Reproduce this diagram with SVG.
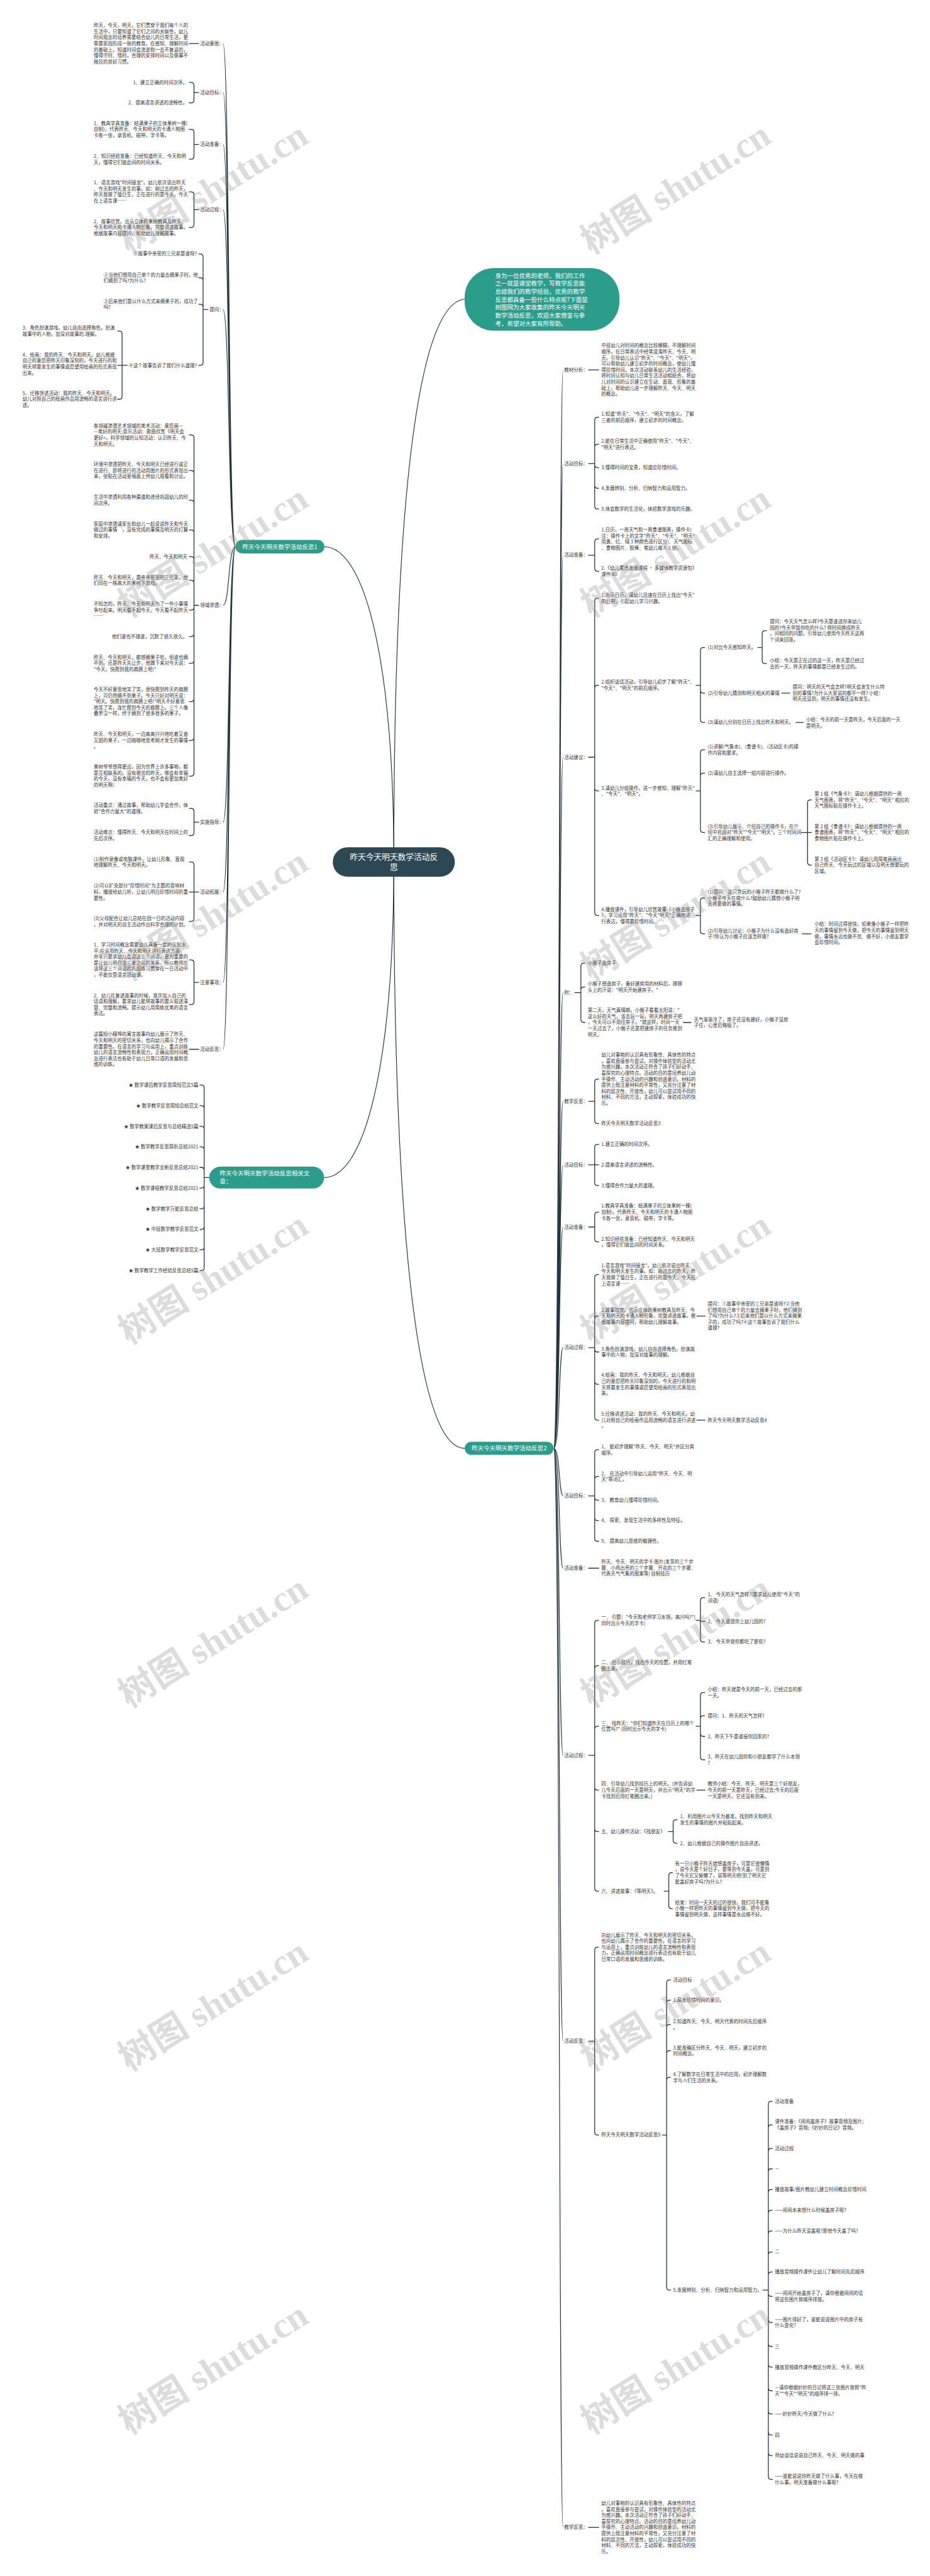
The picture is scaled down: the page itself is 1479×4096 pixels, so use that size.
<svg xmlns="http://www.w3.org/2000/svg" width="1479" height="4096" viewBox="0 0 1479 4096">
<style>
.t{font-family:"Noto Sans CJK SC","Noto Sans",sans-serif;font-size:13px;fill:#333}
.e{text-anchor:end}
.w{font-family:"Noto Sans CJK SC","Noto Sans",sans-serif;font-size:16.5px;fill:#fff}
.m{text-anchor:middle}
.k{fill:none;stroke:#22343e;stroke-width:2.2;stroke-linecap:round;stroke-linejoin:round}
.tr{fill:none;stroke:#22343e;stroke-width:2}
.wm{font-family:"Liberation Serif","Noto Sans CJK SC",serif;font-size:100px;font-weight:bold;fill:#8a8a8a;fill-opacity:.3}
</style>
<rect width="1479" height="4096" fill="#fff"/>
<g transform="scale(0.577734)">
<g id="connectors">
<path class="tr" d="M1084,2372C1084,1800 1000,1505 893,1505"/>
<path class="tr" d="M1084,2372C1084,1300 1160,835 1279,823"/>
<path class="tr" d="M1084,2372C1084,2950 1000,3241 892,3241"/>
<path class="tr" d="M1084,2372C1084,3400 1150,3986 1279,3986"/>
<path class="tr" d="M648,1505C628,1505 632,120 614,120M648,1505C628,1505 632,254.5 614,254.5M648,1505C628,1505 632,397.5 614,397.5M648,1505C628,1505 632,577 614,577M648,1505C628,1505 632,852 614,852M648,1505C628,1505 632,1666 614,1666M648,1505C628,1505 632,2263 614,2263M648,1505C628,1505 632,2455 614,2455M648,1505C628,1505 632,2704 614,2704M648,1505C628,1505 632,2888 614,2888"/>
<path class="tr" d="M1524,3986C1542,3986 1538,1018 1550,1018M1524,3986C1542,3986 1538,1276 1550,1276M1524,3986C1542,3986 1538,1528 1550,1528M1524,3986C1542,3986 1538,2084 1550,2084M1524,3986C1542,3986 1538,2732 1550,2732M1524,3986C1542,3986 1538,3031 1550,3031M1524,3986C1542,3986 1538,3206 1550,3206M1524,3986C1542,3986 1538,3377 1550,3377M1524,3986C1542,3986 1538,3709 1550,3709M1524,3986C1542,3986 1538,4117 1550,4117M1524,3986C1542,3986 1538,4316 1550,4316M1524,3986C1542,3986 1538,4831 1550,4831M1524,3986C1542,3986 1538,5618 1550,5618M1524,3986C1542,3986 1538,6956 1550,6956"/>
<path class="k" d="M547,120H521M547,2888H521"/>
<path class="k" d="M547,254.5H534M534,254.5V235Q534,227 526,227H521M534,254.5V275Q534,283 526,283H521"/>
<path class="k" d="M547,397.5H534M534,397.5V364Q534,356 526,356H521M534,397.5V430Q534,438 526,438H521"/>
<path class="k" d="M547,577H534M534,577V536Q534,528 526,528H521M534,577V618Q534,626 526,626H521"/>
<path class="k" d="M573,852H559M559,852V707Q559,699 551,699H547M559,852V772.5Q559,764.5 551,764.5H547M559,852V845.5Q559,837.5 551,837.5H547M559,852V997.6Q559,1005.6 551,1005.6H547"/>
<path class="k" d="M350,1005.6H336M336,1005.6V919Q336,911 328,911H324M336,1005.6H324M336,1005.6V1090.7Q336,1098.7 328,1098.7H324"/>
<path class="k" d="M547,1666H534M534,1666V1205Q534,1197 526,1197H521M534,1666V1303Q534,1295 526,1295H521M534,1666V1384.6Q534,1376.6 526,1376.6H521M534,1666V1466.5Q534,1458.5 526,1458.5H521M534,1666V1540Q534,1532 526,1532H521M534,1666V1605Q534,1597 526,1597H521M534,1666V1671Q534,1679 526,1679H521M534,1666V1744Q534,1752 526,1752H521M534,1666V1817.6Q534,1825.6 526,1825.6H521M534,1666V1923Q534,1931 526,1931H521M534,1666V2030Q534,2038 526,2038H521M534,1666V2128Q534,2136 526,2136H521"/>
<path class="k" d="M547,2263H534M534,2263V2233Q534,2225 526,2225H521M534,2263V2291.5Q534,2299.5 526,2299.5H521"/>
<path class="k" d="M547,2455H534M534,2455V2380.6Q534,2372.6 526,2372.6H521M534,2455H521M534,2455V2528Q534,2536 526,2536H521"/>
<path class="k" d="M547,2704H534M534,2704V2650Q534,2642 526,2642H521M534,2704V2757Q534,2765 526,2765H521"/>
<path class="k" d="M576,3241H562M562,3241V2994Q562,2986 554,2986H550M562,3241V3051Q562,3043 554,3043H550M562,3241V3108Q562,3100 554,3100H550M562,3241V3164.5Q562,3156.5 554,3156.5H550M562,3241V3221Q562,3213 554,3213H550M562,3241V3262Q562,3270 554,3270H550M562,3241V3319Q562,3327 554,3327H550M562,3241V3375.5Q562,3383.5 554,3383.5H550M562,3241V3432Q562,3440 554,3440H550M562,3241V3489Q562,3497 554,3497H550"/>
<path class="k" d="M1620,1018H1648M1620,4316H1648M1620,6956H1648"/>
<path class="k" d="M1620,1276H1637M1637,1276V1156.3Q1637,1148.3 1645,1148.3H1648M1637,1276V1230.8Q1637,1222.8 1645,1222.8H1648M1637,1276V1279Q1637,1287 1645,1287H1648M1637,1276V1336Q1637,1344 1645,1344H1648M1637,1276V1393Q1637,1401 1645,1401H1648"/>
<path class="k" d="M1620,1528H1637M1637,1528V1491Q1637,1483 1645,1483H1648M1637,1528V1564.5Q1637,1572.5 1645,1572.5H1648"/>
<path class="k" d="M1620,2084H1637M1637,2084V1654.5Q1637,1646.5 1645,1646.5H1648M1637,2084V1894Q1637,1886 1645,1886H1648M1637,2084V2169Q1637,2177 1645,2177H1648M1637,2084V2511.5Q1637,2519.5 1645,2519.5H1648"/>
<path class="k" d="M1916,1886H1928M1928,1886V1790Q1928,1782 1936,1782H1940M1928,1886V1899.5Q1928,1907.5 1936,1907.5H1940M1928,1886V1980Q1928,1988 1936,1988H1940"/>
<path class="k" d="M2086,1782H2098M2098,1782V1744Q2098,1736 2106,1736H2110M2098,1782V1818.5Q2098,1826.5 2106,1826.5H2110"/>
<path class="k" d="M2152,1907.5H2174M2191,1988H2211"/>
<path class="k" d="M1916,2177H1928M1928,2177V2071.5Q1928,2063.5 1936,2063.5H1940M1928,2177V2136Q1928,2128 1936,2128H1940M1928,2177V2283Q1928,2291 1936,2291H1940"/>
<path class="k" d="M2206,2291H2223M2223,2291V2209.5Q2223,2201.5 2231,2201.5H2234M2223,2291H2234M2223,2291V2373Q2223,2381 2231,2381H2234"/>
<path class="k" d="M1916,2519.5H1928M1928,2519.5V2479.5Q1928,2471.5 1936,2471.5H1940M1928,2519.5V2562Q1928,2570 1936,2570H1940M2208,2570H2233"/>
<path class="k" d="M1582,2732H1599M1599,2732V2659Q1599,2651 1607,2651H1610M1599,2732V2724.6Q1599,2716.6 1607,2716.6H1610M1599,2732V2806Q1599,2814 1607,2814H1610M1881,2814H1902"/>
<path class="k" d="M1620,3031H1637M1637,3031V2978Q1637,2970 1645,2970H1648M1637,3031V3084.6Q1637,3092.6 1645,3092.6H1648"/>
<path class="k" d="M1620,3206H1637M1637,3206V3157.5Q1637,3149.5 1645,3149.5H1648M1637,3206H1648M1637,3206V3255Q1637,3263 1645,3263H1648"/>
<path class="k" d="M1620,3377H1637M1637,3377V3344Q1637,3336 1645,3336H1648M1637,3377V3410Q1637,3418 1645,3418H1648"/>
<path class="k" d="M1620,3709H1637M1637,3709V3516Q1637,3508 1645,3508H1648M1637,3709V3630Q1637,3622 1645,3622H1648M1637,3709V3713Q1637,3721 1645,3721H1648M1637,3709V3802Q1637,3810 1645,3810H1648M1637,3709V3900.6Q1637,3908.6 1645,3908.6H1648M1918,3622H1941M1918,3908.6H1941"/>
<path class="k" d="M1620,4117H1637M1637,4117V3998Q1637,3990 1645,3990H1648M1637,4117V4071.6Q1637,4063.6 1645,4063.6H1648M1637,4117V4121Q1637,4129 1645,4129H1648M1637,4117V4177Q1637,4185 1645,4185H1648M1637,4117V4234Q1637,4242 1645,4242H1648"/>
<path class="k" d="M1620,4831H1637M1637,4831V4467.5Q1637,4459.5 1645,4459.5H1648M1637,4831V4592.5Q1637,4584.5 1645,4584.5H1648M1637,4831V4759Q1637,4751 1645,4751H1648M1637,4831V4918.6Q1637,4926.6 1645,4926.6H1648M1637,4831V5033Q1637,5041 1645,5041H1648M1637,4831V5197Q1637,5205 1645,5205H1648"/>
<path class="k" d="M1916,4459.5H1928M1928,4459.5V4405Q1928,4397 1936,4397H1940M1928,4459.5V4462.5H1940M1928,4459.5V4511Q1928,4519 1936,4519H1940"/>
<path class="k" d="M1916,4751H1928M1928,4751V4666.5Q1928,4658.5 1936,4658.5H1940M1928,4751V4730Q1928,4722 1936,4722H1940M1928,4751V4771Q1928,4779 1936,4779H1940M1928,4751V4835.5Q1928,4843.5 1936,4843.5H1940M1918,4926.6H1941"/>
<path class="k" d="M1840,5041H1853M1853,5041V5016.5Q1853,5008.5 1861,5008.5H1864M1853,5041V5065Q1853,5073 1861,5073H1864"/>
<path class="k" d="M1828,5205H1841M1841,5205V5162Q1841,5154 1849,5154H1851M1841,5205V5245Q1841,5253 1849,5253H1851"/>
<path class="k" d="M1620,5618H1637M1637,5618V5367Q1637,5359 1645,5359H1648M1637,5618V5868Q1637,5876 1645,5876H1648"/>
<path class="k" d="M1823,5876H1835M1835,5876V5457Q1835,5449 1843,5449H1846M1835,5876V5513Q1835,5505 1843,5505H1846M1835,5876V5580Q1835,5572 1843,5572H1846M1835,5876V5652Q1835,5644 1843,5644H1846M1835,5876V5725.5Q1835,5717.5 1843,5717.5H1846M1835,5876V6295Q1835,6303 1843,6303H1846"/>
<path class="k" d="M2100,6303H2115M2115,6303V5791Q2115,5783 2123,5783H2126M2115,6303V5856Q2115,5848 2123,5848H2126M2115,6303V5921Q2115,5913 2123,5913H2126M2115,6303V5977Q2115,5969 2123,5969H2126M2115,6303V6034Q2115,6026 2123,6026H2126M2115,6303V6091Q2115,6083 2123,6083H2126M2115,6303V6148Q2115,6140 2123,6140H2126M2115,6303V6206Q2115,6198 2123,6198H2126M2115,6303V6261Q2115,6253 2123,6253H2126M2115,6303V6312Q2115,6320 2123,6320H2126M2115,6303V6384Q2115,6392 2123,6392H2126M2115,6303V6450Q2115,6458 2123,6458H2126M2115,6303V6507Q2115,6515 2123,6515H2126M2115,6303V6572Q2115,6580 2123,6580H2126M2115,6303V6636Q2115,6644 2123,6644H2126M2115,6303V6694Q2115,6702 2123,6702H2126M2115,6303V6750.6Q2115,6758.6 2123,6758.6H2126M2115,6303V6816Q2115,6824 2123,6824H2126"/>
</g>

<g id="center"><rect x="916" y="2332" width="336" height="81" rx="40.5" fill="#2c4854"/><text class="w m" style="font-size:22px" x="1084" y="2365.8">昨天今天明天数学活动反<tspan x="1084" dy="28">思</tspan></text></g>
<g id="intro"><rect x="1279" y="738" width="426" height="172" rx="80" fill="#2a9d8b"/><text class="w" x="1363" y="764.4">身为一位优秀的老师，我们的工作<tspan x="1363" dy="22">之一就是课堂教学，写教学反思能</tspan><tspan x="1363" dy="22">总结我们的教学经验，优秀的教学</tspan><tspan x="1363" dy="22">反思都具备一些什么特点呢?下面是</tspan><tspan x="1363" dy="22">树图网为大家收集的昨天今天明天</tspan><tspan x="1363" dy="22">数学活动反思，欢迎大家借鉴与参</tspan><tspan x="1363" dy="22">考，希望对大家有所帮助。</tspan></text></g>
<g id="b1"><rect x="648" y="1486" width="245" height="37" rx="18.5" fill="#2a9d8b"/><text class="w m" x="770.5" y="1510.8">昨天今天明天数学活动反思1</text></g>
<g id="b2"><rect x="1279" y="3968" width="245" height="36" rx="18" fill="#2a9d8b"/><text class="w m" x="1401.5" y="3991.8">昨天今天明天数学活动反思2</text></g>
<g id="b3"><rect x="576" y="3211" width="316" height="60" rx="30" fill="#2a9d8b"/><text class="w" x="605" y="3235.8">昨天今天明天数学活动反思相关文<tspan x="605" dy="22.5">章：</tspan></text></g>

<g id="left">
<g id="l-yitu"><text class="t" x="551" y="124.6">活动意图：</text><text class="t" x="258" y="74.8">昨天，今天，明天，它们贯穿于我们每个人的<tspan x="258" dy="16.6">生活中，只要知道了它们之间的关联性，幼儿</tspan><tspan x="258" dy="16.6">时间观念的培养需要结合幼儿的日常生活，更</tspan><tspan x="258" dy="16.6">需要家园形成一致的教育。在感知、理解时间</tspan><tspan x="258" dy="16.6">的基础上，知道时间会流逝和一去不复返的，</tspan><tspan x="258" dy="16.6">懂得守时、惜时，合理的安排时间以及做事不</tspan><tspan x="258" dy="16.6">拖拉的良好习惯。</tspan></text></g>
<g id="l-mubiao"><text class="t" x="551" y="259.1">活动目标：</text><text class="t e" x="516" y="231.6">1、建立正确的时间次序。</text><text class="t e" x="516" y="287.6">2、提高语言讲述的流畅性。</text></g>
<g id="l-zhunbei"><text class="t" x="551" y="402.1">活动准备：</text><text class="t" x="258" y="344">1、教具学具准备：结满果子的立体果树一棵(<tspan x="258" dy="16.6">自制)，代表昨天、今天和明天的卡通人物图</tspan><tspan x="258" dy="16.6">卡各一张，录音机、磁带，字卡等。</tspan></text><text class="t" x="258" y="434.3">2、知识经验准备：已经知道昨天、今天和明<tspan x="258" dy="16.6">天，懂得它们彼此间的时间关系。</tspan></text></g>
<g id="l-guocheng"><text class="t" x="551" y="581.6">活动过程：</text><text class="t" x="258" y="507.6">1、语言游戏"时间接龙"。幼儿依次说出昨天<tspan x="258" dy="16.6">、今天和明天发生的事。如：刚过去的昨天，</tspan><tspan x="258" dy="16.6">昨天我做了值日生，正在进行的是今天，今天</tspan><tspan x="258" dy="16.6">在上语言课……</tspan></text><text class="t" x="258" y="614">2、故事欣赏。出示立体的果树教具及昨天、<tspan x="258" dy="16.6">今天和明天的卡通人物形象，完整讲述故事。</tspan><tspan x="258" dy="16.6">根据故事内容提问，帮助幼儿理解故事。</tspan></text></g>
<g id="l-tiwen"><text class="t" x="577" y="856.6">提问：</text><text class="t e" x="542" y="703.6">①故事中亲密的三兄弟是谁呀?</text><text class="t" x="285" y="760.8">②当他们想用自己单个的力量去摘果子时，他<tspan x="285" dy="16.6">们摘到了吗?为什么?</tspan></text><text class="t" x="285" y="833.8">③后来他们是以什么方式来摘果子的，成功了<tspan x="285" dy="16.6">吗?</tspan></text><text class="t e" x="542" y="1010.2">④这个故事告诉了我们什么道理?</text>
<text class="t" x="62" y="907.3">3、角色扮演游戏。幼儿自由选择角色，扮演<tspan x="62" dy="16.6">故事中的人物，加深对故事的.理解。</tspan></text><text class="t" x="62" y="981.1">4、绘画：我的昨天、今天和明天。幼儿根据<tspan x="62" dy="16.6">自己的意愿把昨天印象深刻的，今天进行的和</tspan><tspan x="62" dy="16.6">明天将要发生的事情或愿望用绘画的形式表现</tspan><tspan x="62" dy="16.6">出来。</tspan></text><text class="t" x="62" y="1086.7">5、迁移饼述活动：我的昨天、今天和明天。<tspan x="62" dy="16.6">幼儿对照自己的绘画作品用流畅的语言进行讲</tspan><tspan x="62" dy="16.6">述。</tspan></text></g>
<g id="l-lingyu"><text class="t" x="551" y="1670.6">领域渗透：</text>
<text class="t" x="258" y="1176.6">各领碱渗透艺术领域的美术活动：意愿画—<tspan x="258" dy="16.6">—美好的明天;音乐活动：歌曲欣赏《明天会</tspan><tspan x="258" dy="16.6">更好&gt;。科学领域的认知活动：认识昨天、今</tspan><tspan x="258" dy="16.6">天和明天。</tspan></text>
<text class="t" x="258" y="1283">环境中渗透把昨天、今天和明天已经进行或正<tspan x="258" dy="16.6">在进行、即将进行的活动用图片的形式表现出</tspan><tspan x="258" dy="16.6">来，张贴在活动室墙面上供幼儿观看和讨论。</tspan></text>
<text class="t" x="258" y="1372.9">生活中渗透利用各种渠道和途径巩固幼儿的时<tspan x="258" dy="16.6">间次序。</tspan></text>
<text class="t" x="258" y="1446.5">家庭中渗透请家长和幼儿一起说说昨天和今天<tspan x="258" dy="16.6">做过的事情‘，没有完成的事情及明天的打算</tspan><tspan x="258" dy="16.6">和安排。</tspan></text>
<text class="t e" x="516" y="1536.6">昨天、今天和明天</text>
<text class="t" x="258" y="1593.3">昨天、今天和明天，是亲亲密密的三兄弟，他<tspan x="258" dy="16.6">们同在一株高大的果树下游戏。</tspan></text>
<text class="t" x="258" y="1667">不知怎的，昨天、今天和明天为了一件小事情<tspan x="258" dy="16.6">争吵起来。明天看不起今天，今天看不起昨天</tspan><tspan x="258" dy="16.6">……</tspan></text>
<text class="t e" x="516" y="1756.6">他们谁也不理谁，沉默了很久很久。</text>
<text class="t" x="258" y="1813.6">昨天、今天和明天，都想摘果子吃，但谁也摘<tspan x="258" dy="16.6">不到。还是昨天先让步，他蹲下来对今天说：</tspan><tspan x="258" dy="16.6">"今天，快爬到我的肩膀上吧!"</tspan></text>
<text class="t" x="258" y="1902.4">今天不好意思地笑了笑，很快爬到昨天的肩膀<tspan x="258" dy="16.6">上，可仍然摘不到果子。今天只好对明天说：</tspan><tspan x="258" dy="16.6">"明天。快爬到我的肩膀上吧!"明天不好意思</tspan><tspan x="258" dy="16.6">地笑了笑，连忙爬到今天的肩膀上。三个人像</tspan><tspan x="258" dy="16.6">叠罗汉一样，终于摘到了很多很多的果子。</tspan></text>
<text class="t" x="258" y="2026">昨天、今天和明天，一边高高兴兴地吃着又香<tspan x="258" dy="16.6">又甜的果子，一边暗暗地思考刚才发生的事情</tspan><tspan x="258" dy="16.6">。</tspan></text>
<text class="t" x="258" y="2115.6">果树爷爷想得更远，因为世界上许多事物，都<tspan x="258" dy="16.6">是互相联系的。没有艰苦的昨天，哪会有幸福</tspan><tspan x="258" dy="16.6">的今天，没有幸福的今天，也不会有更加美好</tspan><tspan x="258" dy="16.6">的明天啊!</tspan></text></g>
<g id="l-shishi"><text class="t" x="551" y="2267.6">实施指导：</text><text class="t" x="258" y="2221.3">活动重点：通过故事，帮助幼儿学会合作，体<tspan x="258" dy="16.6">验"合作力量大"的道理。</tspan></text><text class="t" x="258" y="2295.8">活动难点：懂得昨天、今天和明天在时间上的<tspan x="258" dy="16.6">先后次序。</tspan></text></g>
<g id="l-tuozhan"><text class="t" x="551" y="2459.6">活动拓展：</text><text class="t" x="258" y="2368.9">(1)制作录像或电脑课件，让幼儿形象、直观<tspan x="258" dy="16.6">地理解昨天、今天和明天。</tspan></text><text class="t" x="258" y="2443">(2)可以扩充部分"珍惜时间"为主题的音响材<tspan x="258" dy="16.6">料，播放给幼儿听，让幼儿明白珍惜时间的重</tspan><tspan x="258" dy="16.6">要性。</tspan></text><text class="t" x="258" y="2532.3">(3)父母配合让幼儿总结在园一日的活动内容<tspan x="258" dy="16.6">，并对明天的自主活动作出科学合理的计划。</tspan></text></g>
<g id="l-zhuyi"><text class="t" x="551" y="2708.6">注意事项：</text><text class="t" x="258" y="2605.1">1、学习时间概念需要幼儿具备一定的认知水<tspan x="258" dy="16.6">平;在运用昨天、今天和明天进行表达方面，</tspan><tspan x="258" dy="16.6">并非只要求幼儿会说这三个词语，更为重要的</tspan><tspan x="258" dy="16.6">是让幼儿明白这三者之间的关系，所以教师应</tspan><tspan x="258" dy="16.6">该将这三个词语的巩固练习贯穿在一日活动中</tspan><tspan x="258" dy="16.6">，不能仅靠语言活动课。</tspan></text><text class="t" x="258" y="2744.6">2、幼儿在复述故事的时候，准许加入自己的<tspan x="258" dy="16.6">话语和理解，要求幼儿能将故事的要义叙述清</tspan><tspan x="258" dy="16.6">楚、完整和流畅。提示幼儿用简练优美的语言</tspan><tspan x="258" dy="16.6">表达。</tspan></text></g>
<g id="l-fansi"><text class="t" x="551" y="2892.6">活动反思：</text><text class="t" x="258" y="2851.6">这篇短小精悍的寓言故事向幼儿展示了昨天、<tspan x="258" dy="16.6">今天和明天的密切关系，也向幼儿揭示了合作</tspan><tspan x="258" dy="16.6">的重要性。在语言的学习与运用上，重点训练</tspan><tspan x="258" dy="16.6">幼儿的语言流畅性和表现力，正确运用时间概</tspan><tspan x="258" dy="16.6">念进行表达也有助于幼儿日常口语的发展和思</tspan><tspan x="258" dy="16.6">维的训练。</tspan></text></g>
<g id="l-related">
<text class="t e" x="546" y="2990.6">★ 数学课后教学反思简短范文5篇</text>
<text class="t e" x="546" y="3047.6">★ 数学教学反思简短总结范文</text>
<text class="t e" x="546" y="3104.6">★ 数学教案课后反思与总结精选5篇</text>
<text class="t e" x="546" y="3161.1">★ 数学教学反思简析总结2021</text>
<text class="t e" x="546" y="3217.6">★ 数学课堂教学全新反思总结2021</text>
<text class="t e" x="546" y="3274.6">★ 数学课程教学反思总结2021</text>
<text class="t e" x="546" y="3331.6">★ 数学教学万能反思总结</text>
<text class="t e" x="546" y="3388.1">★ 中班数学教学反思范文</text>
<text class="t e" x="546" y="3444.6">★ 大班数学教学反思范文</text>
<text class="t e" x="546" y="3501.6">★ 数学教学工作经验反思总结5篇</text>
</g>
</g>

<g id="right">
<g id="r-jiaocai"><text class="t" x="1553" y="1022.6">教材分析：</text><text class="t" x="1655" y="956.2">中班幼儿对时间的概念比较模糊，不理解时间<tspan x="1655" dy="16.6">顺序，在日常表达中经常混淆昨天、今天、明</tspan><tspan x="1655" dy="16.6">天。引导幼儿认识"昨天"、"今天"、"明天"，</tspan><tspan x="1655" dy="16.6">可以帮助幼儿建立初步的时间概念，使幼儿懂</tspan><tspan x="1655" dy="16.6">得珍惜时间。本次活动联系幼儿的生活经验，</tspan><tspan x="1655" dy="16.6">将时间认知与幼儿日常生活活动相结合，将幼</tspan><tspan x="1655" dy="16.6">儿对时间的认识建立在生动、直观、形象的基</tspan><tspan x="1655" dy="16.6">础上，帮助幼儿进一步理解昨天、今天、明天</tspan><tspan x="1655" dy="16.6">的概念。</tspan></text></g>
<g id="r-mubiao1"><text class="t" x="1553" y="1280.6">活动目标：</text><text class="t" x="1655" y="1144.6">1.知道"昨天"、"今天"、"明天"的含义，了解<tspan x="1655" dy="16.6">三者的前后顺序，建立初步的时间概念。</tspan></text><text class="t" x="1655" y="1219.1">2.能在日常生活中正确使用"昨天"、"今天"、<tspan x="1655" dy="16.6">"明天"进行表达。</tspan></text><text class="t" x="1655" y="1291.6">3.懂得时间的宝贵，知道应珍惜时间。</text><text class="t" x="1655" y="1348.6">4.发展辨别、分析、归纳智力和运用智力。</text><text class="t" x="1655" y="1405.6">5.体会数学的生活化，体验数学游戏的乐趣。</text></g>
<g id="r-zhunbei1"><text class="t" x="1553" y="1532.6">活动准备：</text><text class="t" x="1655" y="1462.6">1.日历，一周天气和一周食谱图表，操作卡(<tspan x="1655" dy="16.6">注：操作卡上的文字"昨天"、"今天"、"明天"</tspan><tspan x="1655" dy="16.6">用黄、红、绿 3 种颜色进行区分)、天气图标</tspan><tspan x="1655" dy="16.6">、食物图片、胶棒、笔幼儿每人 1 份。</tspan></text><text class="t" x="1655" y="1568.8">2.《幼儿素质发展课程 · 多媒体教学资源包》<tspan x="1655" dy="16.6">课件 40</tspan></text></g>
<g id="r-jianyi"><text class="t" x="1553" y="2088.6">活动建议：</text>
<text class="t" x="1655" y="1642.8">1.出示日历，请幼儿迅速在日历上找出"今天"<tspan x="1655" dy="16.6">的日期，引起幼儿学习兴趣。</tspan></text>
<text class="t" x="1655" y="1882.3">2.组织谈话活动，引导幼儿初步了解"昨天"、<tspan x="1655" dy="16.6">"今天"、"明天"的前后顺序。</tspan></text>
<text class="t" x="1948" y="1786.6">(1)对比今天感知昨天。</text>
<text class="t" x="2119" y="1715.6">提问：今天天气怎么样?今天是谁送你来幼儿<tspan x="2119" dy="16.6">园的?今天早饭你吃的什么? 将时间换成昨天</tspan><tspan x="2119" dy="16.6">，问相同的问题，引导幼儿使用今天昨天这两</tspan><tspan x="2119" dy="16.6">个词来回答。</tspan></text>
<text class="t" x="2119" y="1822.8">小结：今天是正在过的这一天，昨天是已经过<tspan x="2119" dy="16.6">去的一天，昨天的事情都是已经发生过的。</tspan></text>
<text class="t" x="1948" y="1912.1">(2)引导幼儿猜测和明天相关的事情</text>
<text class="t" x="2182" y="1895.5">提问：明天的天气会怎样?明天会发生什么特<tspan x="2182" dy="16.6">别的事情?为什么大家说的都不一样? 小结：</tspan><tspan x="2182" dy="16.6">明天还没到，明天的事情还没有发生。</tspan></text>
<text class="t" x="1948" y="1992.6">(3)请幼儿分别在日历上找出昨天和明天。</text>
<text class="t" x="2219" y="1985.8">小结：今天的前一天是昨天，今天后面的一天<tspan x="2219" dy="16.6">是明天。</tspan></text>
<text class="t" x="1655" y="2173.3">3.请幼儿分组操作，进一步感知、理解"昨天"<tspan x="1655" dy="16.6">、"今天"、"明天"。</tspan></text>
<text class="t" x="1948" y="2059.8">(1)讲解(气象本)、(食谱卡)、(活动区卡)的操<tspan x="1948" dy="16.6">作内容和要求。</tspan></text>
<text class="t" x="1948" y="2132.6">(2)请幼儿自主选择一组内容进行操作。</text>
<text class="t" x="1948" y="2279">(3)引导幼儿展示、介绍自己的操作卡，在介<tspan x="1948" dy="16.6">绍中巩固对"昨天""今天""明天"。三个时间词</tspan><tspan x="1948" dy="16.6">汇的正确理解和使用。</tspan></text>
<text class="t" x="2242" y="2189.5">第 1 组《气象卡》：请幼儿根据提供的一周<tspan x="2242" dy="16.6">天气图表，将"昨天"、"今天"、"明天" 相应的</tspan><tspan x="2242" dy="16.6">天气图标贴在操作卡上。</tspan></text>
<text class="t" x="2242" y="2279">第 2 组《食谱卡》：请幼儿根据提供的一周<tspan x="2242" dy="16.6">食谱图表，将"昨天"、"今天"、"明天" 相应的</tspan><tspan x="2242" dy="16.6">食物图片贴在操作卡上。</tspan></text>
<text class="t" x="2242" y="2369">第 3 组《活动区卡》：请幼儿用简笔画画出<tspan x="2242" dy="16.6">自己昨天、今天玩过的区域以及明天想要玩的</tspan><tspan x="2242" dy="16.6">区域。</tspan></text>
<text class="t" x="1655" y="2507.5">4.播放课件，引导幼儿欣赏故事《小猴造房子<tspan x="1655" dy="16.6">》，学习运用"昨天"、"今天"明天"正确地进</tspan><tspan x="1655" dy="16.6">行表达，懂得要珍惜时间。</tspan></text>
<text class="t" x="1948" y="2459.5">(1)提问：这只贪玩的小猴子昨天都做什么了?<tspan x="1948" dy="16.6">小猴子今天在做什么?鼓励幼儿猜想小猴子明</tspan><tspan x="1948" dy="16.6">天将要做的事情。</tspan></text>
<text class="t" x="1948" y="2566.3">(2)引导幼儿讨论：小猴子为什么没有造好房<tspan x="1948" dy="16.6">子?你认为小猴子应该怎样做?</tspan></text>
<text class="t" x="2242" y="2548.6">小结：时间过得很快，如果像小猴子一样把昨<tspan x="2242" dy="16.6">天的事情留到今天做，把今天的事情留到明天</tspan><tspan x="2242" dy="16.6">做，事情永远也做不完、做不好，小朋友要学</tspan><tspan x="2242" dy="16.6">会珍惜时间。</tspan></text></g>
<g id="r-fu"><text class="t" x="1553" y="2736.6">附：</text><text class="t" x="1618" y="2655.6">小猴子造房子</text><text class="t" x="1618" y="2712.9">小猴子想造房子，备好建房用的材料后，擦擦<tspan x="1618" dy="16.6">头上的汗说："明天开始建房子。"</tspan></text><text class="t" x="1618" y="2785.4">第二天，天气真晴朗。小猴子看看太阳说："<tspan x="1618" dy="16.6">这么好的天气，该去玩一玩，明天再建房子吧</tspan><tspan x="1618" dy="16.6">，今天可以不用住房子。"就这样，时间一天</tspan><tspan x="1618" dy="16.6">一天过去了，小猴子还是把建房子的任务推到</tspan><tspan x="1618" dy="16.6">明天。</tspan></text><text class="t" x="1910" y="2810.3">天气渐渐冷了，房子还没有建好，小猴子没房<tspan x="1910" dy="16.6">子住，心里后悔极了。</tspan></text></g>
<g id="r-fansi1"><text class="t" x="1553" y="3035.6">教学反思：</text><text class="t" x="1655" y="2908.2">幼儿对事物的认识具有形象性、具体性的特点<tspan x="1655" dy="16.6">，喜欢直接参与尝试，对操作体验型的活动尤</tspan><tspan x="1655" dy="16.6">为感兴趣。本次活动正符合了孩子们好动手、</tspan><tspan x="1655" dy="16.6">喜探究的心理特点。活动的目的是培养幼儿动</tspan><tspan x="1655" dy="16.6">手操作、主动活动的兴趣和创造意识。材料的</tspan><tspan x="1655" dy="16.6">提供上既注意材料的平常性，又充分注意了材</tspan><tspan x="1655" dy="16.6">料的层次性、开放性，幼儿可以尝试用不同的</tspan><tspan x="1655" dy="16.6">材料、不同的方法，主动探索，体验成功的快</tspan><tspan x="1655" dy="16.6">乐。</tspan></text><text class="t" x="1655" y="3097.2">昨天今天明天数学活动反思3</text></g>
<g id="r-mubiao2"><text class="t" x="1553" y="3210.6">活动目标：</text><text class="t" x="1655" y="3154.1">1.建立正确的时间次序。</text><text class="t" x="1655" y="3210.6">2.提高语言讲述的流畅性。</text><text class="t" x="1655" y="3267.6">3.懂得合作力量大的道理。</text></g>
<g id="r-zhunbei2"><text class="t" x="1553" y="3381.6">活动准备：</text><text class="t" x="1655" y="3324">1.教具学具准备：结满果子的立体果树一棵(<tspan x="1655" dy="16.6">自制)，代表昨天、今天和明天的卡通人物图</tspan><tspan x="1655" dy="16.6">卡各一张，录音机、磁带，字卡等。</tspan></text><text class="t" x="1655" y="3414.3">2.知识经验准备：已经知道昨天、今天和明天<tspan x="1655" dy="16.6">，懂得它们彼此间的时间关系。</tspan></text></g>
<g id="r-guocheng1"><text class="t" x="1553" y="3713.6">活动过程：</text>
<text class="t" x="1655" y="3487.6">1.语言游戏"时间接龙"。幼儿依次说出昨天、<tspan x="1655" dy="16.6">今天和明天发生的事。如：刚过去的昨天，昨</tspan><tspan x="1655" dy="16.6">天我做了值日生，正在进行的是今天，今天在</tspan><tspan x="1655" dy="16.6">上语言课……</tspan></text>
<text class="t" x="1655" y="3610">2.故事欣赏。出示立体的果树教具及昨天、今<tspan x="1655" dy="16.6">天和明天的卡通人物形象，完整讲述故事。根</tspan><tspan x="1655" dy="16.6">据故事内容提问，帮助幼儿理解故事。</tspan></text>
<text class="t" x="1948" y="3593.4">提问：①故事中亲密的三兄弟是谁呀?②当他<tspan x="1948" dy="16.6">们想用自己单个的力量去摘果子时，他们摘到</tspan><tspan x="1948" dy="16.6">了吗?为什么?③后来他们是以什么方式来摘果</tspan><tspan x="1948" dy="16.6">子的，成功了吗?④这个故事告诉了我们什么</tspan><tspan x="1948" dy="16.6">道理?</tspan></text>
<text class="t" x="1655" y="3717.3">3.角色扮演游戏。幼儿自由选择角色，扮演故<tspan x="1655" dy="16.6">事中的人物，加深对故事的理解。</tspan></text>
<text class="t" x="1655" y="3789.6">4.绘画：我的昨天、今天和明天。幼儿根据自<tspan x="1655" dy="16.6">己的意愿把昨天印象深刻的，今天进行的和明</tspan><tspan x="1655" dy="16.6">天将要发生的事情或愿望用绘画的形式表现出</tspan><tspan x="1655" dy="16.6">来。</tspan></text>
<text class="t" x="1655" y="3896.6">5.迁移讲述活动：我的昨天、今天和明天。幼<tspan x="1655" dy="16.6">儿对照自己的绘画作品用流畅的语言进行讲述</tspan><tspan x="1655" dy="16.6">。</tspan></text>
<text class="t" x="1948" y="3913.2">昨天今天明天数学活动反思4</text></g>
<g id="r-mubiao3"><text class="t" x="1553" y="4121.6">活动目标：</text><text class="t" x="1655" y="3986.3">1、 能初步理解"昨天、今天、明天"并区分其<tspan x="1655" dy="16.6">顺序。</tspan></text><text class="t" x="1655" y="4059.9">2、 在活动中引导幼儿运用"昨天、今天、明<tspan x="1655" dy="16.6">天"等词汇。</tspan></text><text class="t" x="1655" y="4133.6">3、 教育幼儿懂得珍惜时间。</text><text class="t" x="1655" y="4189.6">4、 探索、发现生活中的多样性及特征。</text><text class="t" x="1655" y="4246.6">5、 提高幼儿思维的敏捷性。</text></g>
<g id="r-zhunbei3"><text class="t" x="1553" y="4320.6">活动准备：</text><text class="t" x="1655" y="4303">昨天、今天、明天的字卡 图片(发芽的三个步<tspan x="1655" dy="16.6">骤、小鸡出壳的三个步骤、开花的三个步骤、</tspan><tspan x="1655" dy="16.6">代表天气气象的图案等) 自制挂历</tspan></text></g>
<g id="r-guocheng2"><text class="t" x="1553" y="4835.6">活动过程：</text>
<text class="t" x="1655" y="4455.8">一、 引题："今天和老师学习本领，高兴吗?"(<tspan x="1655" dy="16.6">同时出示今天的字卡)</tspan></text>
<text class="t" x="1948" y="4393.3">1、 今天的天气怎样?(要求幼儿使用"今天"的<tspan x="1948" dy="16.6">词语)</tspan></text>
<text class="t" x="1948" y="4467.1">2、 今天谁送你上幼儿园的?</text>
<text class="t" x="1948" y="4523.6">3、 今天早餐你都吃了那些?</text>
<text class="t" x="1655" y="4580.8">二、 出示挂历，找出今天的位置，并用红笔<tspan x="1655" dy="16.6">圈出来。</tspan></text>
<text class="t" x="1655" y="4747.3">三、 找昨天："你们知道昨天在日历上的哪个<tspan x="1655" dy="16.6">位置吗?" (同时出示今天的字卡)</tspan></text>
<text class="t" x="1948" y="4654.8">小结：昨天就是今天的前一天，已经过去的那<tspan x="1948" dy="16.6">一天。</tspan></text>
<text class="t" x="1948" y="4726.6">提问：1、昨天的天气怎样?</text>
<text class="t" x="1948" y="4783.6">2、昨天下午是谁接你回家的?</text>
<text class="t" x="1948" y="4839.8">3、昨天在幼儿园你和小朋友都学了什么本领<tspan x="1948" dy="16.6">?</tspan></text>
<text class="t" x="1655" y="4914.6">四、引导幼儿找到挂历上的明天。(并告诉幼<tspan x="1655" dy="16.6">儿今天后面的一天是明天，并出示"明天"的字</tspan><tspan x="1655" dy="16.6">卡找到后用红笔圈出来。)</tspan></text>
<text class="t" x="1948" y="4914.6">教师小结：今天、昨天、明天是三个好朋友，<tspan x="1948" dy="16.6">今天的前一天是昨天，已经过去;今天的后面</tspan><tspan x="1948" dy="16.6">一天是明天，它还没有到来。</tspan></text>
<text class="t" x="1655" y="5045.6">五、幼儿操作活动：《找朋友》</text>
<text class="t" x="1872" y="5004.8">1、利用图片以今天为基准，找到昨天和明天<tspan x="1872" dy="16.6">发生的事情的图片并粘贴起来。</tspan></text>
<text class="t" x="1872" y="5077.6">2、幼儿根据自己的操作图片自由讲述。</text>
<text class="t" x="1655" y="5209.6">六、讲述故事：《等明天》。</text>
<text class="t" x="1858" y="5133.6">有一只小猴子昨天就想盖房子，可是它很懒惰<tspan x="1858" dy="16.6">，说今天是个好日子，要等到今天盖，可是到</tspan><tspan x="1858" dy="16.6">了今天它又偷懒了，说等明天吧!到了明天它</tspan><tspan x="1858" dy="16.6">能盖好房子吗?为什么?</tspan></text>
<text class="t" x="1858" y="5241">结束：时间一天天的过的很快，我们可不能象<tspan x="1858" dy="16.6">小猴一样把昨天的事情留到今天做，把今天的</tspan><tspan x="1858" dy="16.6">事情留到明天做，这样事情是永远做不好。</tspan></text></g>
<g id="r-fansi2"><text class="t" x="1553" y="5622.6">活动反思：</text>
<text class="t" x="1655" y="5330.4">向幼儿展示了昨天、今天和明天的密切关系，<tspan x="1655" dy="16.6">也向幼儿揭示了合作的重要性。在语言的学习</tspan><tspan x="1655" dy="16.6">与运用上，重点训练幼儿的语言流畅性和表现</tspan><tspan x="1655" dy="16.6">力，正确运用时间概念进行表达也有助于幼儿</tspan><tspan x="1655" dy="16.6">日常口语的发展和思维的训练。</tspan></text>
<text class="t" x="1655" y="5880.6">昨天今天明天数学活动反思5</text>
<text class="t" x="1853" y="5453.6">活动目标</text>
<text class="t" x="1853" y="5509.6">1.萌发珍惜时间的意识。</text>
<text class="t" x="1853" y="5568.3">2.知道昨天、今天、明天代表的时间先后顺序<tspan x="1853" dy="16.6">。</tspan></text>
<text class="t" x="1853" y="5640.3">3.能准确区分昨天、今天、明天，建立初步的<tspan x="1853" dy="16.6">时间概念。</tspan></text>
<text class="t" x="1853" y="5713.8">4.了解数字在日常生活中的应用，初步理解数<tspan x="1853" dy="16.6">字与人们生活的关系。</tspan></text>
<text class="t" x="1853" y="6307.6">5.发展辨别、分析、归纳智力和运用智力。</text>
<text class="t" x="2133" y="5787.6">活动准备</text>
<text class="t" x="2133" y="5844.3">课件准备：《闹闹盖房子》故事音频及图片;<tspan x="2133" dy="16.6">《盖房子》音频;《妙妙的日记》音频。</tspan></text>
<text class="t" x="2133" y="5917.6">活动过程</text>
<text class="t" x="2133" y="5973.6">—</text>
<text class="t" x="2133" y="6030.6">播放故事/图片教幼儿建立时间概念珍惜时间</text>
<text class="t" x="2133" y="6087.6">——闹闹本来想什么时候盖房子呢?</text>
<text class="t" x="2133" y="6144.6">——为什么昨天没盖呢?那他今天盖了吗?</text>
<text class="t" x="2133" y="6202.6">二</text>
<text class="t" x="2133" y="6257.6">播放音频操作课件让幼儿了解时间先后顺序</text>
<text class="t" x="2133" y="6316.3">——闹闹开始盖房子了，请你根据闹闹的话<tspan x="2133" dy="16.6">将这些图片按顺序排放。</tspan></text>
<text class="t" x="2133" y="6388.3">——图片排好了，谁能说说图片中的房子有<tspan x="2133" dy="16.6">什么变化?</tspan></text>
<text class="t" x="2133" y="6462.6">三</text>
<text class="t" x="2133" y="6519.6">播放音频操作课件教区分昨天、今天、明天</text>
<text class="t" x="2133" y="6576.3">—请你根据妙妙的日记将这三张图片按照"昨<tspan x="2133" dy="16.6">天""今天""明天"的顺序排一排。</tspan></text>
<text class="t" x="2133" y="6648.6">——妙妙昨天/今天做了什么?</text>
<text class="t" x="2133" y="6706.6">四</text>
<text class="t" x="2133" y="6763.2">师幼谈话说说自己昨天、今天、明天做的事</text>
<text class="t" x="2133" y="6820.3">——谁能说说你昨天做了什么事，今天在做<tspan x="2133" dy="16.6">什么事，明天准备做什么事呢?</tspan></text></g>
<g id="r-fansi3"><text class="t" x="1553" y="6960.6">教学反思：</text><text class="t" x="1655" y="6894.2">幼儿对事物的认识具有形象性、具体性的特点<tspan x="1655" dy="16.6">，喜欢直接参与尝试，对操作体验型的活动尤</tspan><tspan x="1655" dy="16.6">为感兴趣。本次活动正符合了孩子们好动手、</tspan><tspan x="1655" dy="16.6">喜探究的心理特点。活动的目的是培养幼儿动</tspan><tspan x="1655" dy="16.6">手操作、主动活动的兴趣和创造意识。材料的</tspan><tspan x="1655" dy="16.6">提供上既注意材料的平常性，又充分注意了材</tspan><tspan x="1655" dy="16.6">料的层次性、开放性，幼儿可以尝试用不同的</tspan><tspan x="1655" dy="16.6">材料、不同的方法，主动探索，体验成功的快</tspan><tspan x="1655" dy="16.6">乐。</tspan></text></g>
</g>

<g id="watermark">
<text class="wm" transform="translate(355,702) rotate(-32)">树图 shutu.cn</text>
<text class="wm" transform="translate(355,1702) rotate(-32)">树图 shutu.cn</text>
<text class="wm" transform="translate(355,2702) rotate(-32)">树图 shutu.cn</text>
<text class="wm" transform="translate(355,3702) rotate(-32)">树图 shutu.cn</text>
<text class="wm" transform="translate(355,4702) rotate(-32)">树图 shutu.cn</text>
<text class="wm" transform="translate(355,5702) rotate(-32)">树图 shutu.cn</text>
<text class="wm" transform="translate(355,6702) rotate(-32)">树图 shutu.cn</text>
<text class="wm" transform="translate(1628,702) rotate(-32)">树图 shutu.cn</text>
<text class="wm" transform="translate(1628,1702) rotate(-32)">树图 shutu.cn</text>
<text class="wm" transform="translate(1628,2702) rotate(-32)">树图 shutu.cn</text>
<text class="wm" transform="translate(1628,3702) rotate(-32)">树图 shutu.cn</text>
<text class="wm" transform="translate(1628,4702) rotate(-32)">树图 shutu.cn</text>
<text class="wm" transform="translate(1628,5702) rotate(-32)">树图 shutu.cn</text>
<text class="wm" transform="translate(1628,6702) rotate(-32)">树图 shutu.cn</text>
</g>
</g>
</svg>
